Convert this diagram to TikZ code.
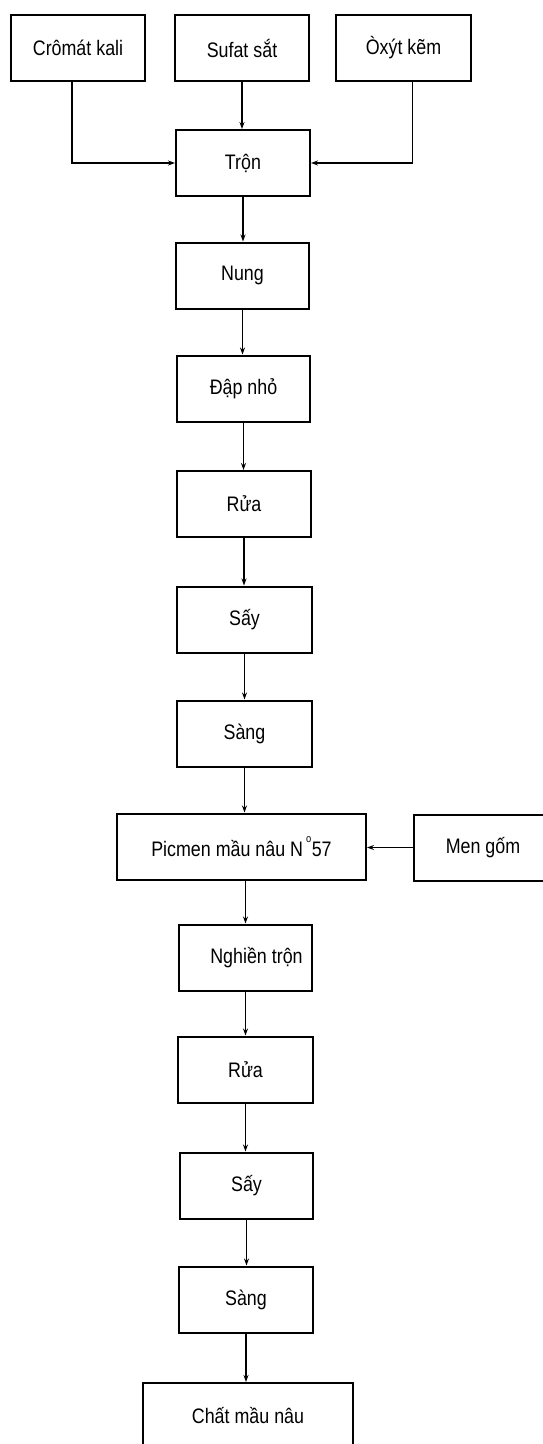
\documentclass[tikz,border=0pt]{standalone}
\usepackage{fontspec}
\setmainfont{Liberation Sans}[FakeStretch=0.85]
\usetikzlibrary{arrows.meta}
\begin{document}
\begin{tikzpicture}[x=1pt,y=-1pt,
  box/.style={draw, line width=2pt, minimum height=66pt, inner sep=0pt,
    font=\fontsize{21}{23}\selectfont},
  conn/.style={line width=1.4pt, -{Stealth[length=7pt,width=5pt]}}]
\useasboundingbox (0,0) rectangle (543,1444);
\clip (0,0) rectangle (543,1444);
\fill[white] (0,0) rectangle (543,1444);
% top row
\node[box, minimum width=134pt] (crom) at (78,47.5) {Crômát kali};
\node[box, minimum width=134pt] (sufat) at (242,48) {Sufat sắt};
\node[box, minimum width=135pt] (oxyt) at (403.5,48) {Òxýt kẽm};
% main chain
\node[box, minimum width=134pt] (tron) at (243,163) {Trộn};
\node[box, minimum width=133pt] (nung) at (242.5,275.5) {Nung};
\node[box, minimum width=133pt] (dap) at (243.5,388.5) {Đập nhỏ};
\node[box, minimum width=134pt] (rua) at (244,504) {Rửa};
\node[box, minimum width=135pt] (say) at (244.5,619.5) {Sấy};
\node[box, minimum width=135pt] (sang) at (244.5,733.5) {Sàng};
\node[box, minimum width=249pt] (pic) at (241.5,846.5) {Picmen mầu nâu N\hspace{3pt}\raisebox{1.3ex}{\fontsize{11}{11}\selectfont o}\hspace{0.5pt}57};
\node[box, minimum width=138pt] (men) at (483,847.5) {Men gốm};
\node[box, minimum width=133pt] (nghien) at (245.5,957.5) {\hspace*{22pt}Nghiền trộn};
\node[box, minimum width=135pt] (rua2) at (245.5,1069.5) {Rửa};
\node[box, minimum width=133pt] (say2) at (246.5,1185.5) {Sấy};
\node[box, minimum width=134pt] (sang2) at (246,1299.5) {Sàng};
\node[box, minimum width=210pt] (chat) at (248,1416) {Chất mầu nâu};
% connectors from top row
\draw[conn] ([xshift=-6pt]crom.south) |- (tron.west);
\draw[conn] (sufat.south) -- (sufat.south |- tron.north);
\draw[conn] ([xshift=9pt]oxyt.south) |- (tron.east);
% vertical chain
\draw[conn] (tron.south) -- (tron.south |- nung.north);
\draw[conn] (nung.south) -- (nung.south |- dap.north);
\draw[conn] (dap.south) -- (dap.south |- rua.north);
\draw[conn] (rua.south) -- (rua.south |- say.north);
\draw[conn] (say.south) -- (say.south |- sang.north);
\draw[conn] (sang.south) -- (sang.south |- pic.north);
\draw[conn] (men.west) -- (men.west -| pic.east);
\draw[conn] (pic.south -| nghien.north) -- (nghien.north);
\draw[conn] (nghien.south) -- (nghien.south |- rua2.north);
\draw[conn] (rua2.south) -- (rua2.south |- say2.north);
\draw[conn] (say2.south) -- (say2.south |- sang2.north);
\draw[conn] (sang2.south) -- (sang2.south |- chat.north);
\end{tikzpicture}
\end{document}
